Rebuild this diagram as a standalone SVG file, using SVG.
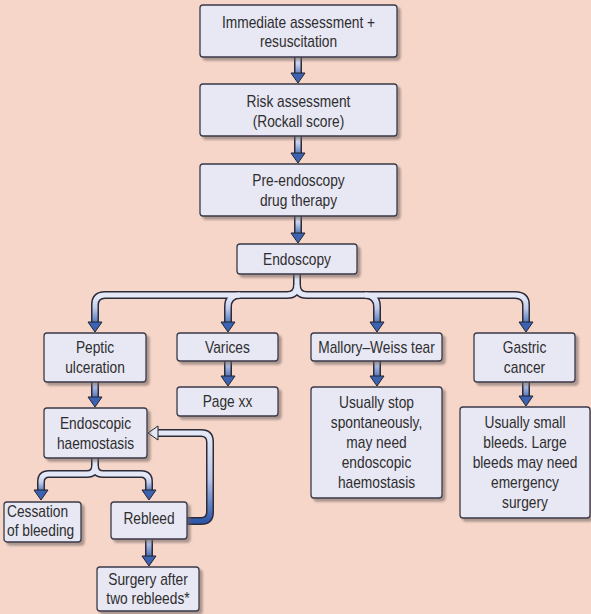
<svg xmlns="http://www.w3.org/2000/svg" xmlns:xlink="http://www.w3.org/1999/xlink" width="591" height="614" viewBox="0 0 591 614">
<defs>
<style>
.box{fill:#e8e7f4;stroke:#3a3a48;stroke-width:1.3;filter:url(#sh)}
.t{font-family:"Liberation Sans",Arial,sans-serif;font-size:16px;fill:#2e2e2e;text-anchor:middle}
.tl{text-anchor:start}
.out{fill:none;stroke:#2b2b3a;stroke-width:8;stroke-linecap:butt;stroke-linejoin:round}
.in{fill:none;stroke-width:5;stroke-linecap:butt;stroke-linejoin:round}
.ahb{fill:#3c63b3;stroke:#22242e;stroke-width:1;stroke-linejoin:round}
.ahl{fill:#e6e8f6;stroke:#22242e;stroke-width:1;stroke-linejoin:round}
</style>
<filter id="sh" x="-10%" y="-10%" width="130%" height="140%">
<feDropShadow dx="3" dy="3" stdDeviation="1.2" flood-color="#6b5f5c" flood-opacity="0.55"/>
</filter>
<path id="ahd" d="M-7,-10 L7,-10 L0,0 Z"/>
<path id="ahlft" d="M10,-7 L10,7 L0,0 Z"/>
<linearGradient id="g1" gradientUnits="userSpaceOnUse" x1="0" y1="57" x2="0" y2="76"><stop offset="0" stop-color="#e4e8f6"/><stop offset="0.4" stop-color="#c2cdea"/><stop offset="1" stop-color="#4a70b8"/></linearGradient>
<linearGradient id="g2" gradientUnits="userSpaceOnUse" x1="0" y1="136" x2="0" y2="155"><stop offset="0" stop-color="#e4e8f6"/><stop offset="0.4" stop-color="#c2cdea"/><stop offset="1" stop-color="#4a70b8"/></linearGradient>
<linearGradient id="g3" gradientUnits="userSpaceOnUse" x1="0" y1="216" x2="0" y2="234"><stop offset="0" stop-color="#e4e8f6"/><stop offset="0.4" stop-color="#c2cdea"/><stop offset="1" stop-color="#4a70b8"/></linearGradient>
<linearGradient id="g4" gradientUnits="userSpaceOnUse" x1="0" y1="297" x2="0" y2="324"><stop offset="0" stop-color="#e4e8f6"/><stop offset="0.4" stop-color="#c2cdea"/><stop offset="1" stop-color="#4a70b8"/></linearGradient>
<linearGradient id="g5" gradientUnits="userSpaceOnUse" x1="0" y1="361" x2="0" y2="379"><stop offset="0" stop-color="#dfe4f4"/><stop offset="0.3" stop-color="#a8b8e0"/><stop offset="1" stop-color="#4066b4"/></linearGradient>
<linearGradient id="g6" gradientUnits="userSpaceOnUse" x1="0" y1="382" x2="0" y2="400"><stop offset="0" stop-color="#dfe4f4"/><stop offset="0.3" stop-color="#a8b8e0"/><stop offset="1" stop-color="#4066b4"/></linearGradient>
<linearGradient id="g7" gradientUnits="userSpaceOnUse" x1="0" y1="476" x2="0" y2="492"><stop offset="0" stop-color="#e4e8f6"/><stop offset="0.4" stop-color="#c2cdea"/><stop offset="1" stop-color="#4a70b8"/></linearGradient>
<linearGradient id="g8" gradientUnits="userSpaceOnUse" x1="0" y1="436" x2="0" y2="521"><stop offset="0" stop-color="#e4e8f6"/><stop offset="0.5" stop-color="#b9c6e8"/><stop offset="1" stop-color="#2f58ac"/></linearGradient>
<linearGradient id="g9" gradientUnits="userSpaceOnUse" x1="0" y1="539" x2="0" y2="558"><stop offset="0" stop-color="#dfe4f4"/><stop offset="0.3" stop-color="#a8b8e0"/><stop offset="1" stop-color="#4066b4"/></linearGradient>
<linearGradient id="g10" gradientUnits="userSpaceOnUse" x1="0" y1="382" x2="0" y2="399"><stop offset="0" stop-color="#dfe4f4"/><stop offset="0.3" stop-color="#a8b8e0"/><stop offset="1" stop-color="#4066b4"/></linearGradient>
</defs>
<rect x="0" y="0" width="591" height="614" fill="#f6d6c9"/>

<g id="connectors">
<path class="out" d="M298 57 V75"/><path class="in" stroke="url(#g1)" d="M298 57 V75"/>
<use href="#ahd" x="298" y="83" class="ahb"/>
<path class="out" d="M298 136 V154"/><path class="in" stroke="url(#g2)" d="M298 136 V154"/>
<use href="#ahd" x="298" y="163" class="ahb"/>
<path class="out" d="M298 216 V233"/><path class="in" stroke="url(#g3)" d="M298 216 V233"/>
<use href="#ahd" x="298" y="243" class="ahb"/>
<g>
<path class="out" d="M297 274 V285 Q297 295 287 295 H105 Q95 295 95 305 V323"/>
<path class="out" d="M297 285 Q297 295 307 295 H515 Q526 295 526 305 V323"/>
<path class="out" d="M240 295 Q228 295 228 307 V323"/>
<path class="out" d="M365 295 Q377 295 377 307 V323"/>
<path class="in" stroke="url(#g4)" d="M297 274 V285 Q297 295 287 295 H105 Q95 295 95 305 V323"/>
<path class="in" stroke="url(#g4)" d="M297 285 Q297 295 307 295 H515 Q526 295 526 305 V323"/>
<path class="in" stroke="url(#g4)" d="M240 295 Q228 295 228 307 V323"/>
<path class="in" stroke="url(#g4)" d="M365 295 Q377 295 377 307 V323"/>
<use href="#ahd" x="95" y="332" class="ahb"/>
<use href="#ahd" x="228" y="332" class="ahb"/>
<use href="#ahd" x="377" y="332" class="ahb"/>
<use href="#ahd" x="526" y="332" class="ahb"/>
</g>
<path class="out" d="M228 361 V378"/><path class="in" stroke="url(#g5)" d="M228 361 V378"/>
<use href="#ahd" x="228" y="386" class="ahb"/>
<path class="out" d="M377 361 V378"/><path class="in" stroke="url(#g5)" d="M377 361 V378"/>
<use href="#ahd" x="377" y="386" class="ahb"/>
<path class="out" d="M526 382 V398"/><path class="in" stroke="url(#g10)" d="M526 382 V398"/>
<use href="#ahd" x="526" y="406" class="ahb"/>
<path class="out" d="M95 382 V399"/><path class="in" stroke="url(#g6)" d="M95 382 V399"/>
<use href="#ahd" x="95" y="407" class="ahb"/>
<path class="out" d="M95 458 V466 Q95 474 87 474 H49 Q41 474 41 482 V491"/>
<path class="out" d="M95 466 Q95 474 103 474 H141 Q149 474 149 482 V491"/>
<path class="in" stroke="url(#g7)" d="M95 458 V466 Q95 474 87 474 H49 Q41 474 41 482 V491"/>
<path class="in" stroke="url(#g7)" d="M95 466 Q95 474 103 474 H141 Q149 474 149 482 V491"/>
<use href="#ahd" x="41" y="500" class="ahb"/>
<use href="#ahd" x="149" y="500" class="ahb"/>
<path class="out" d="M187 521 H201 Q210 521 210 512 V442 Q210 433 201 433 H157"/>
<path class="in" stroke="url(#g8)" d="M187 521 H201 Q210 521 210 512 V442 Q210 433 201 433 H157"/>
<use href="#ahlft" x="148" y="433" class="ahl"/>
<path class="out" d="M149 540 V558"/><path class="in" stroke="url(#g9)" d="M149 540 V558"/>
<use href="#ahd" x="149" y="566" class="ahb"/>
</g>

<g id="n1"><rect class="box" x="200" y="5" width="197" height="52" rx="3"/>
<g transform="matrix(0.86 0 0 1 41.79 0)"><text class="t" x="298.5" y="28">Immediate assessment +</text><text class="t" x="298.5" y="47">resuscitation</text></g></g>
<g id="n2"><rect class="box" x="200" y="84" width="197" height="52" rx="3"/>
<g transform="matrix(0.86 0 0 1 41.79 0)"><text class="t" x="298.5" y="107">Risk assessment</text><text class="t" x="298.5" y="127">(Rockall score)</text></g></g>
<g id="n3"><rect class="box" x="200" y="164" width="197" height="52" rx="3"/>
<g transform="matrix(0.86 0 0 1 41.79 0)"><text class="t" x="298.5" y="186">Pre-endoscopy</text><text class="t" x="298.5" y="206">drug therapy</text></g></g>
<g id="n4"><rect class="box" x="237" y="244" width="120" height="30" rx="3"/>
<g transform="matrix(0.86 0 0 1 41.58 0)"><text class="t" x="297" y="265">Endoscopy</text></g></g>
<g id="n5"><rect class="box" x="44" y="333" width="102" height="49" rx="3"/>
<g transform="matrix(0.86 0 0 1 13.3 0)"><text class="t" x="95" y="353">Peptic</text><text class="t" x="95" y="373">ulceration</text></g></g>
<g id="n6"><rect class="box" x="177" y="333" width="101" height="28" rx="3"/>
<g transform="matrix(0.86 0 0 1 31.85 0)"><text class="t" x="227.5" y="353">Varices</text></g></g>
<g id="n7"><rect class="box" x="311" y="333" width="131" height="28" rx="3"/>
<g transform="matrix(0.86 0 0 1 52.71 0)"><text class="t" x="376.5" y="353">Mallory–Weiss tear</text></g></g>
<g id="n8"><rect class="box" x="474" y="333" width="101" height="49" rx="3"/>
<g transform="matrix(0.86 0 0 1 73.43 0)"><text class="t" x="524.5" y="353">Gastric</text><text class="t" x="524.5" y="373">cancer</text></g></g>
<g id="n9"><rect class="box" x="177" y="387" width="101" height="29" rx="3"/>
<g transform="matrix(0.86 0 0 1 31.85 0)"><text class="t" x="227.5" y="407">Page xx</text></g></g>
<g id="n10"><rect class="box" x="311" y="387" width="131" height="111" rx="3"/>
<g transform="matrix(0.86 0 0 1 52.71 0)"><text class="t" x="376.5" y="408">Usually stop</text><text class="t" x="376.5" y="428">spontaneously,</text><text class="t" x="376.5" y="448">may need</text><text class="t" x="376.5" y="468">endoscopic</text><text class="t" x="376.5" y="488">haemostasis</text></g></g>
<g id="n11"><rect class="box" x="460" y="407" width="130" height="111" rx="3"/>
<g transform="matrix(0.86 0 0 1 73.5 0)"><text class="t" x="525" y="428">Usually small</text><text class="t" x="525" y="448">bleeds. Large</text><text class="t" x="525" y="468">bleeds may need</text><text class="t" x="525" y="488">emergency</text><text class="t" x="525" y="508">surgery</text></g></g>
<g id="n12"><rect class="box" x="44" y="408" width="103" height="50" rx="3"/>
<g transform="matrix(0.86 0 0 1 13.37 0)"><text class="t" x="95.5" y="429">Endoscopic</text><text class="t" x="95.5" y="449">haemostasis</text></g></g>
<g id="n13"><rect class="box" x="4" y="502" width="77" height="40" rx="3"/>
<g transform="matrix(0.86 0 0 1 0.98 0)"><text class="t tl" x="7" y="517">Cessation</text><text class="t tl" x="7" y="536">of bleeding</text></g></g>
<g id="n14"><rect class="box" x="111" y="502" width="76" height="37" rx="3"/>
<g transform="matrix(0.86 0 0 1 20.86 0)"><text class="t" x="149" y="524">Rebleed</text></g></g>
<g id="n15"><rect class="box" x="97" y="567" width="102" height="44" rx="3"/>
<g transform="matrix(0.86 0 0 1 20.72 0)"><text class="t" x="148" y="585">Surgery after</text><text class="t" x="148" y="604">two rebleeds*</text></g></g>
</svg>
